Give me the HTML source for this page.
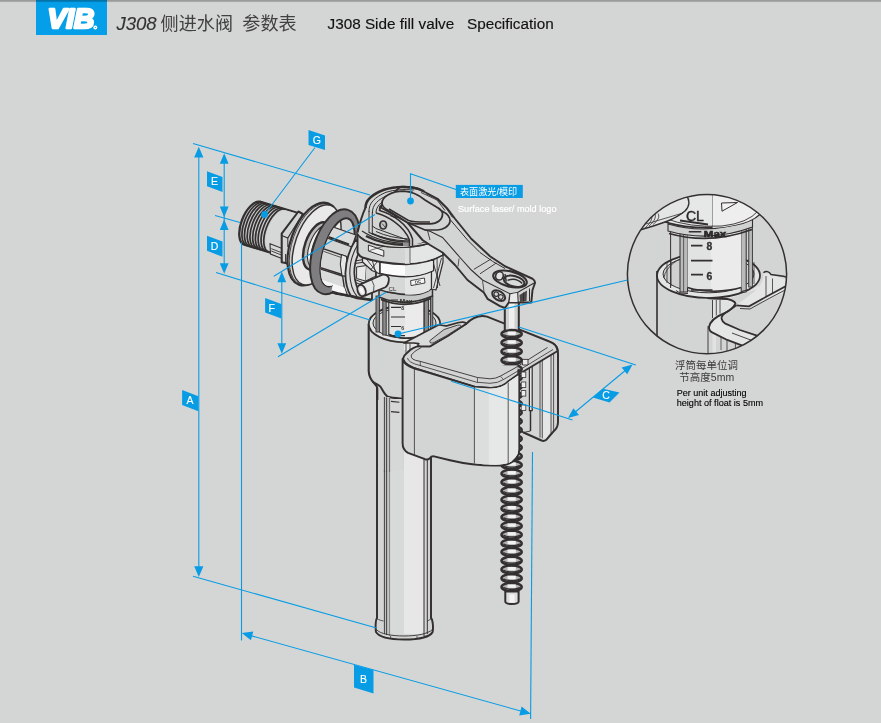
<!DOCTYPE html>
<html lang="zh">
<head>
<meta charset="utf-8">
<title>J308 Side fill valve Specification</title>
<style>
html,body{margin:0;padding:0;background:#d4d6d5;}
body{width:881px;height:723px;overflow:hidden;position:relative;font-family:"Liberation Sans","Noto Sans CJK SC",sans-serif;}
svg{position:absolute;left:0;top:0;display:block;will-change:transform}
text{font-family:"Liberation Sans","Noto Sans CJK SC",sans-serif;}
.bl{stroke:#089ce5;stroke-width:1.1;fill:none;stroke-linecap:butt}
.bf{fill:#089ce5;stroke:none}
.lab{fill:#fff;font-weight:normal;font-size:10.5px;text-anchor:middle;stroke:#fff;stroke-width:0.12}
.k{stroke:#3a3736;fill:none;stroke-linejoin:round;stroke-linecap:round}
</style>
</head>
<body>
<svg width="881" height="723" viewBox="0 0 881 723">
<g id="header">
<rect x="36" y="0" width="71" height="35" fill="#049fe8"/>
<text x="47.5" y="28.4" font-size="28.2" font-weight="bold" font-style="italic" fill="#fff" stroke="#fff" stroke-width="2.6" stroke-linejoin="round" textLength="46.8" lengthAdjust="spacingAndGlyphs">VIB</text>
<circle cx="95.3" cy="27.5" r="2" fill="#fff"/><circle cx="95.3" cy="27.5" r="0.6" fill="#049fe8"/>
<path d="M58 8 L54.5 29 M64.5 8 L61 29" stroke="#049fe8" stroke-width="0" fill="none"/>
<text x="116.4" y="29.7" font-size="18.3" font-style="italic" fill="#333" stroke="#333" stroke-width="0.15" textLength="40.3" lengthAdjust="spacingAndGlyphs">J308</text>
<text x="160.6" y="30.2" font-size="18.1" font-weight="400" fill="#414141" style="font-family:'Liberation Sans','Noto Sans CJK SC',sans-serif">侧进水阀</text>
<text x="242.3" y="30.2" font-size="18.1" font-weight="400" fill="#414141" style="font-family:'Liberation Sans','Noto Sans CJK SC',sans-serif">参数表</text>
<text x="327.5" y="29.3" font-size="15.3" fill="#111" stroke="#111" stroke-width="0.15" xml:space="preserve">J308 Side fill valve   Specification</text>
<defs><linearGradient id="tb" x1="0" y1="0" x2="0" y2="1"><stop offset="0" stop-color="#000" stop-opacity="0.30"/><stop offset="0.55" stop-color="#000" stop-opacity="0.22"/><stop offset="1" stop-color="#000" stop-opacity="0"/></linearGradient></defs>
<rect x="0" y="0" width="881" height="2.6" fill="url(#tb)"/>
</g>

<g id="inlet">
<path d="M260.46 201.73 L306.44 215.52 L290.31 258.57 L244.34 244.77 A11.1 23.0 21.7 0 1 260.46 201.73z" fill="#cbcccc" stroke="#33302f" stroke-width="2.3" stroke-linejoin="round"/>
<path d="M286.47 210.46 L306.11 216.36 L290.64 257.73 L271.01 251.84 A11.1 22.1 21.7 0 1 286.47 210.46z" fill="#d6d7d7"/>
<path d="M263.19 202.55 A11.1 23.0 21.7 0 0 247.06 245.59" fill="none" stroke="#33302f" stroke-width="1.72"/>
<path d="M265.92 203.36 A11.1 23.0 21.7 0 0 249.79 246.41" fill="none" stroke="#33302f" stroke-width="1.72"/>
<path d="M268.65 204.18 A11.1 23.0 21.7 0 0 252.52 247.23" fill="none" stroke="#33302f" stroke-width="1.72"/>
<path d="M271.38 205.00 A11.1 23.0 21.7 0 0 255.25 248.05" fill="none" stroke="#33302f" stroke-width="1.72"/>
<path d="M274.11 205.82 A11.1 23.0 21.7 0 0 257.98 248.87" fill="none" stroke="#33302f" stroke-width="1.72"/>
<path d="M276.84 206.64 A11.1 23.0 21.7 0 0 260.71 249.69" fill="none" stroke="#33302f" stroke-width="1.72"/>
<path d="M279.57 207.46 A11.1 23.0 21.7 0 0 263.44 250.51" fill="none" stroke="#33302f" stroke-width="1.72"/>
<path d="M282.30 208.28 A11.1 23.0 21.7 0 0 266.17 251.32" fill="none" stroke="#33302f" stroke-width="1.72"/>
<path d="M285.03 209.10 A11.1 23.0 21.7 0 0 268.90 252.14" fill="none" stroke="#33302f" stroke-width="1.72"/>
<path d="M270 243.7 L283 248.8 V259 L270.5 254z" fill="#d9dada" stroke="#33302f" stroke-width="1.1"/>
<path d="M271.3 248.7 L283 253.2 M271.3 251 L283 255.6" stroke="#33302f" stroke-width="0.9" fill="none"/>
<path d="M298.4 211.5 L302.6 213.8 L304 224 L292 246 L291 265 L285.6 263 L281.7 262.3 V233.7z" fill="#d3d5d4" stroke="#33302f" stroke-width="2.07" stroke-linejoin="round"/>
<path d="M281.7 235.5 L287.8 238 L302.3 214.5" stroke="#33302f" stroke-width="1.2" fill="none"/>
<path d="M287.8 238 V247 M285.6 254 V263" stroke="#33302f" stroke-width="1" fill="none"/>
</g>
<g id="flange">
<ellipse cx="0" cy="0" rx="22.9" ry="43.2" transform="translate(313.5,244) rotate(19.7)" fill="#cfd0d0" stroke="#33302f" stroke-width="2.2"/>
<ellipse cx="0" cy="0" rx="22.2" ry="42.6" transform="translate(314.6,244.3) rotate(19.7)" fill="none" stroke="#33302f" stroke-width="0.8"/>
<ellipse cx="0" cy="0" rx="21.2" ry="41.9" transform="translate(316.6,244.9) rotate(19.7)" fill="#e9e9e9" stroke="#33302f" stroke-width="1.4"/>
<ellipse cx="0" cy="0" rx="12.3" ry="24.8" transform="translate(317.3,246.0) rotate(19.7)" fill="#bdbebe" stroke="#33302f" stroke-width="2.4"/>
<ellipse cx="0" cy="0" rx="10.2" ry="22.0" transform="translate(319.6,246.6) rotate(19.7)" fill="#f2f2f2" stroke="#33302f" stroke-width="1.1"/>
<ellipse cx="0" cy="0" rx="9.0" ry="20.8" transform="translate(322,247.2) rotate(19.7)" fill="#c9caca" stroke="#33302f" stroke-width="1.3"/>
</g>
<g id="washerback"><path d="M347.95 209.91 A22.0 43.8 17.2 1 0 322.05 293.59 A22.0 43.8 17.2 1 0 347.95 209.91z M347.97 218.48 A14.2 35.4 17.2 1 0 327.03 286.12 A14.2 35.4 17.2 1 0 347.97 218.48z" fill="#7e7e80" fill-rule="evenodd" stroke="#33302f" stroke-width="2"/></g>
<g id="conn"><defs><clipPath id="cc"><path d="M347.79 219.06 A13.6 34.8 17.2 1 0 327.21 285.54 A13.6 34.8 17.2 1 0 347.79 219.06z"/><path d="M352 205 L380 205 V310 H327z"/></clipPath></defs><g clip-path="url(#cc)">
<path d="M318 222 L352 234 L366 298 L338 296 L318 286z" fill="#d3d5d4"/>
<!-- upper face -->
<path d="M319 222 L356 235 L352 247 L319 235z" fill="#dadbdb" stroke="#33302f" stroke-width="1.2" stroke-linejoin="round"/>
<path d="M319 233.5 L349 244.5" stroke="#33302f" stroke-width="2.3" fill="none"/>
<!-- middle face -->
<path d="M314 245.5 L346.5 256.6 L347 268 L342.2 274.5 L314 265.7z" fill="#d6d7d7" stroke="#33302f" stroke-width="1.4" stroke-linejoin="round"/>
<path d="M314 248 L346 259.2" stroke="#33302f" stroke-width="0.8" fill="none"/>
<!-- lower band with highlight -->
<path d="M314 267 L342.6 276 L344.3 287.6 L347.6 295.8 L336 294 L316 287z" fill="#d9dada" stroke="#33302f" stroke-width="1.4" stroke-linejoin="round"/>
<path d="M318 278.2 L344.3 287.6 L346.6 294.6 L336 293 L322 288.5z" fill="#f6f6f6"/>
<path d="M320 285.5 L327 290.5 L338 293.6 L347.6 295.6 L364 296.6" stroke="#33302f" stroke-width="2.6" fill="none" stroke-linejoin="round"/>
<!-- hex end cap -->
<path d="M341.5 254.6 L346.5 256.6 L348 268 L345.5 276.4 L342 275.6 L340.3 264z" fill="#e6e7e7" stroke="#33302f" stroke-width="1.1" stroke-linejoin="round"/>
</g></g>

<g id="tube">
<!-- vertical tube -->
<path d="M377 372 V618 C375.5 620 375.3 628 376 632 C379 637 390 639.5 404 639.5 C418 639.5 430 637 432.6 632 C433.4 628 433 620 431 618 V372z" fill="#d3d5d4" stroke="#33302f" stroke-width="1.95" stroke-linejoin="round"/>
<rect x="404" y="372" width="20" height="262" fill="#e7e7e7"/>
<rect x="389.6" y="372" width="14.4" height="262" fill="#d8d9d9"/>
<rect x="384.4" y="372" width="5.2" height="262" fill="#c2c3c3"/>
<path d="M384.4 372 V634 M386.6 372 V635" stroke="#33302f" stroke-width="0.9" fill="none"/>
<path d="M389.6 372 V636" stroke="#6a6867" stroke-width="0.7" fill="none"/>
<path d="M424 372 V636 M427.3 372 V634" stroke="#33302f" stroke-width="1" fill="none"/>
<path d="M376.4 629.5 C380 634 392 636 404 636 C416 636 428 634 432.4 629.5" stroke="#33302f" stroke-width="0.9" fill="none"/>
<path d="M377 618.5 C379 620 381 620.5 383.6 621 M431 618.5 C429.5 620 428.5 620.5 427.3 621" stroke="#33302f" stroke-width="0.8" fill="none"/>
<path d="M390.6 636 V639 M417 636 V639.2" stroke="#33302f" stroke-width="0.7" fill="none"/>
</g>

<g id="collar">
<!-- collar body -->
<path d="M368.7 324 V370 C369 379 377.5 382 378 392 V470 H404 V343 L440.3 324 C440.3 300 368.7 300 368.7 324z" fill="#d3d5d4"/>
<path d="M368.7 324 V371 C369 377 371.5 380.5 374 383 C376 385 377.3 386.5 377.3 389 V400" fill="none" stroke="#33302f" stroke-width="2.1" stroke-linejoin="round"/>
<path d="M372.5 381.5 C376 384 379.5 385.5 380.7 387 C383 391 385 395.5 388 396.8 C392 398 397 398.3 402.4 398.8" fill="none" stroke="#33302f" stroke-width="2" stroke-linejoin="round"/>
<!-- lighter right part below the rim -->
<path d="M404 343 C420 343 440 336 440.3 324 V334 L414 350 H404z" fill="#e4e5e5"/>
<!-- rim top (outer and inner ellipse) -->
<ellipse cx="404.5" cy="324" rx="35.8" ry="18.3" fill="#e2e3e3" stroke="#33302f" stroke-width="1.85"/>
<ellipse cx="404.5" cy="323" rx="31.5" ry="15" fill="#cfd0d0" stroke="#33302f" stroke-width="1"/>
<path d="M406 343 V356 M410 343.5 V354" stroke="#33302f" stroke-width="0.8" fill="none"/>
<rect x="389.6" y="399" width="13" height="72" fill="#d6d7d7"/>
<rect x="384.4" y="397" width="5.2" height="74" fill="#c2c3c3"/>
<path d="M384.4 397 V471.6 M386.6 397.5 V471.6" stroke="#33302f" stroke-width="0.9" fill="none"/>
<path d="M389.6 398 V471.6" stroke="#33302f" stroke-width="0.7" fill="none"/>
<path d="M391 401.4 L399.4 402.2 M391 411.6 L399.4 412.4" stroke="#33302f" stroke-width="1.1" fill="none"/>
</g>

<g id="cage">
<!-- cage ring left of body -->
<path d="M355.4 240 C349 250 345.8 262 345.4 273 C345.4 283 347 290 351 296 L372 300 V248z" fill="#dadbdb" stroke="#33302f" stroke-width="1.8" stroke-linejoin="round"/>
<path d="M358.5 243.5 C353 252 349.8 263 349.8 273 C350 283 352.5 291 357 296.4" stroke="#33302f" stroke-width="1.1" fill="none"/>
<path d="M362 247 C357 255 354.2 264 354.3 273 C354.6 282 357 289.5 362 295" stroke="#33302f" stroke-width="1.7" fill="none"/>
<!-- spokes -->
<path d="M355 261 L372 258 M354.8 263.5 L372 261" stroke="#33302f" stroke-width="1" fill="none"/>
<path d="M355 279.5 L366 284 M355.8 282.5 L365 286.5" stroke="#33302f" stroke-width="1" fill="none"/>
<path d="M356.6 267 V278.5 L365.5 281 L366.5 265.5z" fill="#e9e9e9" stroke="#33302f" stroke-width="1"/>
<path d="M359.5 250.5 L368 265 M363.5 248 L372 261" stroke="#33302f" stroke-width="1.1" fill="none"/>
<path d="M366.5 265.5 L376 261.5 V276 L365.5 281" fill="#d3d5d4" stroke="#33302f" stroke-width="1"/>
<path d="M357.5 290.5 L366 284 L376 279" stroke="#33302f" stroke-width="1.1" fill="none"/>
<path d="M351 296 L357 298.2 L372 300" stroke="#33302f" stroke-width="2.4" fill="none"/>
</g>

<g id="body">
<!-- graduated inner tube + guide rods -->
<rect x="376" y="296" width="3.4" height="36" fill="#8b8b8c" stroke="#33302f" stroke-width="0.9"/>
<rect x="382.8" y="296" width="3.4" height="39" fill="#8b8b8c" stroke="#33302f" stroke-width="0.9"/>
<rect x="424.2" y="296" width="4.2" height="39" fill="#8b8b8c" stroke="#33302f" stroke-width="0.9"/>
<rect x="430.4" y="296" width="2.4" height="34" fill="#8b8b8c" stroke="#33302f" stroke-width="0.9"/>
<path d="M388.8 298 V334.5 Q398 338.3 406 338.2 Q416 338 423.8 335 V298z" fill="#e2e3e3" stroke="#33302f" stroke-width="1.1"/>
<path d="M405 299 V338 Q416 338 423.2 335 V299z" fill="#ebebeb"/>
<path d="M388.8 334.5 Q398 338.3 406 338.2 Q416 338 423.8 335" fill="none" stroke="#33302f" stroke-width="1.84"/>
<!-- scale marks -->
<path d="M391 307.3 H401 M391 317 H405 M391 326.5 H401 M392 335.6 H405" stroke="#33302f" stroke-width="1.2" fill="none"/>
<text x="401.3" y="310.3" font-size="5" font-weight="bold" fill="#33302f">8</text>
<text x="401.3" y="329.6" font-size="5" font-weight="bold" fill="#33302f">6</text>
<!-- neck rings -->
<path d="M379 290 V297 Q405 308 432.5 296 V289z" fill="#c6c7c7" stroke="#33302f" stroke-width="1.49"/>
<path d="M381 299.5 Q405 309.5 431 298.5" stroke="#33302f" stroke-width="1.84" fill="none"/>
<text x="399.8" y="302.6" font-size="4.6" font-weight="bold" fill="#2a2827" textLength="12.5" lengthAdjust="spacingAndGlyphs">Max</text>
<path d="M390.5 300 H398" stroke="#33302f" stroke-width="1" fill="none"/>
<!-- lower cylinder with DC window -->
<path d="M376 268 V287 Q380 291 391 292.5 Q406 296 420 293.8 Q428 292 431.5 288.5 V266z" fill="#d6d7d7" stroke="#33302f" stroke-width="1.72" stroke-linejoin="round"/>
<path d="M405 274 V294.6 Q413 295 420 293.8 Q428 292 430.8 288.5 V268z" fill="#e3e4e4"/>
<path d="M410.6 280.6 L424.4 278 L425 283 L411 285.6z" fill="#f6f6f6" stroke="#33302f" stroke-width="0.9"/>
<text x="415.2" y="283.9" font-size="4.2" font-weight="bold" fill="#33302f" transform="rotate(-10 415 284)">DC</text>
<text x="388.6" y="291" font-size="6.2" fill="#2a2827">CL</text>
<path d="M386.5 292.3 L397.5 293.6" stroke="#33302f" stroke-width="1" fill="none"/>
<!-- right braces -->
<path d="M431.5 258 L443 254 V262 L436 290 L431.5 289z" fill="#e1e2e2" stroke="#33302f" stroke-width="1.2" stroke-linejoin="round"/>
<path d="M433 262 L440 286 M441.5 258 L433.5 288 M437 257 L437.5 288" stroke="#33302f" stroke-width="0.9" fill="none"/>
<!-- white band -->
<path d="M362.5 256 V262 L372 270.5 L380 274 V262z" fill="#e6e7e7" stroke="#33302f" stroke-width="1.3" stroke-linejoin="round"/>
<path d="M366 258.5 L377 272.5 M372.5 261 L375.5 272 M377 262 L371 269.5" stroke="#33302f" stroke-width="0.9" fill="none"/>
<path d="M380 262 V273.6 Q392 276.6 406 276.8 Q421 276.4 433.5 270.6 V260z" fill="#fbfbfb" stroke="#33302f" stroke-width="1.5" stroke-linejoin="round"/>
<path d="M405 264 V276.2 Q421 275.8 432.8 270.2 V261z" fill="#e6e7e7"/>
<!-- upper ring -->
<path d="M357.5 232.5 V252.5 Q359 256 362.5 257.5 Q380 263.5 406 264.4 Q428 263.5 443 255 V232z" fill="#d3d5d4" stroke="#33302f" stroke-width="1.95" stroke-linejoin="round"/>
<path d="M405 246 V263.6 Q428 262.7 442.2 254.6 V238z" fill="#e4e5e5"/>
<path d="M405 246 V263.6 H410 V246z" fill="#dcdddd"/>
<path d="M410 247 V263" stroke="#33302f" stroke-width="0.7" fill="none"/>
<!-- window on upper ring -->
<path d="M368.4 245 L383.8 250.6 V256.4 L368.4 251z" fill="#efefef" stroke="#33302f" stroke-width="1"/>
<path d="M369.5 250.5 L383 246.5" stroke="#33302f" stroke-width="0.7"/>
<!-- ring top ellipse -->
<ellipse cx="400.2" cy="232" rx="42.8" ry="15.2" fill="#d0d1d1" stroke="#33302f" stroke-width="1.72"/>
<path d="M359.5 236 Q372 247 400 247.6 Q424 247.5 438 240" stroke="#33302f" stroke-width="1" fill="none"/>
<path d="M361.5 233 Q374 243.5 400 244.5 Q424 244.5 436 238" stroke="#33302f" stroke-width="1" fill="none"/>
<path d="M364 230.5 Q376 240 400 241.3 Q420 241.5 432 236.5" stroke="#33302f" stroke-width="1" fill="none"/>
<!-- nozzle -->
<path d="M360.2 284.4 L382.5 274.7 C387 274.5 389.5 277 388.8 280.6 C388.6 283.5 387.5 285.5 385.4 287.3 L365 295.6z" fill="#e4e5e5" stroke="#33302f" stroke-width="1.75" stroke-linejoin="round"/>
<path d="M371.5 279.5 Q375.5 285 373.5 292" stroke="#33302f" stroke-width="0.8" fill="none"/>
<ellipse cx="361.6" cy="290.6" rx="3.9" ry="5.8" transform="rotate(-22 361.6 290.6)" fill="#dcdcdc" stroke="#33302f" stroke-width="1.85"/>
<ellipse cx="361.6" cy="290.6" rx="1.9" ry="3.3" transform="rotate(-22 361.6 290.6)" fill="#f8f8f8"/>
</g>

<g id="floatback">
<!-- right-front face with guide block -->
<path d="M517.5 375 L531 362 L551 343 Q558 345 558 353 V422 Q558 428 553 432 L546 440 Q544 441.5 541.5 440.5 L523.5 432.5 L519 430z" fill="#d3d5d4" stroke="#33302f" stroke-width="1.95" stroke-linejoin="round"/>
<path d="M542.5 352 L551 347 V431.5 L546 438.5 L542.5 438z" fill="#e4e5e5"/>
<path d="M529.4 362 V410.6 H532.2 V360" stroke="#33302f" stroke-width="1.2" fill="#e4e5e5"/>
<path d="M530.5 410.6 V431" stroke="#33302f" stroke-width="1.49" fill="none"/>
<path d="M540 354.5 V437.5 M542.3 353 V438.3" stroke="#33302f" stroke-width="0.8" fill="none"/>
<path d="M551 346.5 V433 M553.6 346 V431" stroke="#33302f" stroke-width="0.8" fill="none"/>
<path d="M523.5 432.5 L530.5 431" stroke="#33302f" stroke-width="0.9" fill="none"/>
<!-- top face -->
<path d="M403 358.8 Q404 355 407.5 352.5 Q414 346 420 346.3 L430 346.3 L466 324 Q476 314 487 316.6 L549.4 341.5 Q557 344 557.6 351 L517.5 375 L509 381 Q502 388.5 490 388 L475 386.9 L420 370 Q405 366 403 358.8Z" fill="#d3d5d4" stroke="#33302f" stroke-width="1.95" stroke-linejoin="round"/>
<!-- bracket to collar -->
<path d="M440 325 Q445 326.2 447.5 325.6 L458.8 322.5 Q466 321.5 466.2 323.8 L447.5 336.3 L430 346.3 H420 Q416 345 418.8 343.7 L413.8 343 L404 343 L440.3 324z" fill="#d9dada" stroke="#33302f" stroke-width="1.72" stroke-linejoin="round"/>
<path d="M444 329.5 L457.5 325.2 Q461.5 324.6 461 326.5 L446 336 L433 343 Q429 343.5 430 340.5z" fill="#c6c7c7" stroke="#33302f" stroke-width="0.9" stroke-linejoin="round"/>
<!-- inner rim lines on the top face -->
<path d="M421.3 347.5 Q414 351 411.3 355 Q410 360 420 361.3 L477.5 377.5 L490 378.8 Q496 378.6 500 376.3 L515 368 L547.5 347.5" stroke="#33302f" stroke-width="0.9" fill="none"/>
<path d="M407.5 358 Q408 362.5 420 365.5 L476.5 382.2 L490 383.3 Q498 383.2 503.5 379.5 L517 371.5 L553 349.5" stroke="#33302f" stroke-width="0.8" fill="none"/>
<path d="M420.3 361.3 V366 M477.5 377.5 V382.6 M500.5 376.3 L503.5 379.5" stroke="#33302f" stroke-width="0.7" fill="none"/>
<!-- ratchet tab -->
<path d="M522 359.4 H528 V365 H522.6z" fill="#e9e9e9" stroke="#33302f" stroke-width="0.9"/>
</g>

<g id="rod">
<defs><clipPath id="rc"><rect x="490" y="290" width="45" height="75.2"/><rect x="517.4" y="365" width="20" height="110"/><rect x="490" y="440" width="45" height="175"/></clipPath></defs>
<g clip-path="url(#rc)">
<rect x="504.8" y="300" width="14" height="32" fill="#cfd0d0" stroke="#33302f" stroke-width="2"/>
<rect x="509" y="301" width="5.5" height="30" fill="#efefef"/>
<rect x="504.6" y="330" width="14.6" height="262" fill="#8d8d8e"/>
<ellipse cx="511.6" cy="334.10" rx="10.1" ry="4.0" fill="#b4b4b5" stroke="#33302f" stroke-width="2.5"/>
<rect x="507.6" y="331.60" width="8.2" height="3.3" fill="#f2f2f2"/>
<path d="M503.4 334.50 C507 337.00 516.5 337.00 519.8 334.50" stroke="#33302f" stroke-width="1.3" fill="none"/>
<ellipse cx="511.6" cy="342.82" rx="10.1" ry="4.0" fill="#b4b4b5" stroke="#33302f" stroke-width="2.5"/>
<rect x="507.6" y="340.32" width="8.2" height="3.3" fill="#f2f2f2"/>
<path d="M503.4 343.22 C507 345.72 516.5 345.72 519.8 343.22" stroke="#33302f" stroke-width="1.3" fill="none"/>
<ellipse cx="511.6" cy="351.54" rx="10.1" ry="4.0" fill="#b4b4b5" stroke="#33302f" stroke-width="2.5"/>
<rect x="507.6" y="349.04" width="8.2" height="3.3" fill="#f2f2f2"/>
<path d="M503.4 351.94 C507 354.44 516.5 354.44 519.8 351.94" stroke="#33302f" stroke-width="1.3" fill="none"/>
<ellipse cx="511.6" cy="360.26" rx="10.1" ry="4.0" fill="#b4b4b5" stroke="#33302f" stroke-width="2.5"/>
<rect x="507.6" y="357.76" width="8.2" height="3.3" fill="#f2f2f2"/>
<path d="M503.4 360.66 C507 363.16 516.5 363.16 519.8 360.66" stroke="#33302f" stroke-width="1.3" fill="none"/>
<ellipse cx="511.6" cy="368.98" rx="10.1" ry="4.0" fill="#b4b4b5" stroke="#33302f" stroke-width="2.5"/>
<rect x="507.6" y="366.48" width="8.2" height="3.3" fill="#f2f2f2"/>
<path d="M503.4 369.38 C507 371.88 516.5 371.88 519.8 369.38" stroke="#33302f" stroke-width="1.3" fill="none"/>
<ellipse cx="511.6" cy="377.70" rx="10.1" ry="4.0" fill="#b4b4b5" stroke="#33302f" stroke-width="2.5"/>
<rect x="507.6" y="375.20" width="8.2" height="3.3" fill="#f2f2f2"/>
<path d="M503.4 378.10 C507 380.60 516.5 380.60 519.8 378.10" stroke="#33302f" stroke-width="1.3" fill="none"/>
<ellipse cx="511.6" cy="386.42" rx="10.1" ry="4.0" fill="#b4b4b5" stroke="#33302f" stroke-width="2.5"/>
<rect x="507.6" y="383.92" width="8.2" height="3.3" fill="#f2f2f2"/>
<path d="M503.4 386.82 C507 389.32 516.5 389.32 519.8 386.82" stroke="#33302f" stroke-width="1.3" fill="none"/>
<ellipse cx="511.6" cy="395.14" rx="10.1" ry="4.0" fill="#b4b4b5" stroke="#33302f" stroke-width="2.5"/>
<rect x="507.6" y="392.64" width="8.2" height="3.3" fill="#f2f2f2"/>
<path d="M503.4 395.54 C507 398.04 516.5 398.04 519.8 395.54" stroke="#33302f" stroke-width="1.3" fill="none"/>
<ellipse cx="511.6" cy="403.86" rx="10.1" ry="4.0" fill="#b4b4b5" stroke="#33302f" stroke-width="2.5"/>
<rect x="507.6" y="401.36" width="8.2" height="3.3" fill="#f2f2f2"/>
<path d="M503.4 404.26 C507 406.76 516.5 406.76 519.8 404.26" stroke="#33302f" stroke-width="1.3" fill="none"/>
<ellipse cx="511.6" cy="412.58" rx="10.1" ry="4.0" fill="#b4b4b5" stroke="#33302f" stroke-width="2.5"/>
<rect x="507.6" y="410.08" width="8.2" height="3.3" fill="#f2f2f2"/>
<path d="M503.4 412.98 C507 415.48 516.5 415.48 519.8 412.98" stroke="#33302f" stroke-width="1.3" fill="none"/>
<ellipse cx="511.6" cy="421.30" rx="10.1" ry="4.0" fill="#b4b4b5" stroke="#33302f" stroke-width="2.5"/>
<rect x="507.6" y="418.80" width="8.2" height="3.3" fill="#f2f2f2"/>
<path d="M503.4 421.70 C507 424.20 516.5 424.20 519.8 421.70" stroke="#33302f" stroke-width="1.3" fill="none"/>
<ellipse cx="511.6" cy="430.02" rx="10.1" ry="4.0" fill="#b4b4b5" stroke="#33302f" stroke-width="2.5"/>
<rect x="507.6" y="427.52" width="8.2" height="3.3" fill="#f2f2f2"/>
<path d="M503.4 430.42 C507 432.92 516.5 432.92 519.8 430.42" stroke="#33302f" stroke-width="1.3" fill="none"/>
<ellipse cx="511.6" cy="438.74" rx="10.1" ry="4.0" fill="#b4b4b5" stroke="#33302f" stroke-width="2.5"/>
<rect x="507.6" y="436.24" width="8.2" height="3.3" fill="#f2f2f2"/>
<path d="M503.4 439.14 C507 441.64 516.5 441.64 519.8 439.14" stroke="#33302f" stroke-width="1.3" fill="none"/>
<ellipse cx="511.6" cy="447.46" rx="10.1" ry="4.0" fill="#b4b4b5" stroke="#33302f" stroke-width="2.5"/>
<rect x="507.6" y="444.96" width="8.2" height="3.3" fill="#f2f2f2"/>
<path d="M503.4 447.86 C507 450.36 516.5 450.36 519.8 447.86" stroke="#33302f" stroke-width="1.3" fill="none"/>
<ellipse cx="511.6" cy="456.18" rx="10.1" ry="4.0" fill="#b4b4b5" stroke="#33302f" stroke-width="2.5"/>
<rect x="507.6" y="453.68" width="8.2" height="3.3" fill="#f2f2f2"/>
<path d="M503.4 456.58 C507 459.08 516.5 459.08 519.8 456.58" stroke="#33302f" stroke-width="1.3" fill="none"/>
<ellipse cx="511.6" cy="464.90" rx="10.1" ry="4.0" fill="#b4b4b5" stroke="#33302f" stroke-width="2.5"/>
<rect x="507.6" y="462.40" width="8.2" height="3.3" fill="#f2f2f2"/>
<path d="M503.4 465.30 C507 467.80 516.5 467.80 519.8 465.30" stroke="#33302f" stroke-width="1.3" fill="none"/>
<ellipse cx="511.6" cy="473.62" rx="10.1" ry="4.0" fill="#b4b4b5" stroke="#33302f" stroke-width="2.5"/>
<rect x="507.6" y="471.12" width="8.2" height="3.3" fill="#f2f2f2"/>
<path d="M503.4 474.02 C507 476.52 516.5 476.52 519.8 474.02" stroke="#33302f" stroke-width="1.3" fill="none"/>
<ellipse cx="511.6" cy="482.34" rx="10.1" ry="4.0" fill="#b4b4b5" stroke="#33302f" stroke-width="2.5"/>
<rect x="507.6" y="479.84" width="8.2" height="3.3" fill="#f2f2f2"/>
<path d="M503.4 482.74 C507 485.24 516.5 485.24 519.8 482.74" stroke="#33302f" stroke-width="1.3" fill="none"/>
<ellipse cx="511.6" cy="491.06" rx="10.1" ry="4.0" fill="#b4b4b5" stroke="#33302f" stroke-width="2.5"/>
<rect x="507.6" y="488.56" width="8.2" height="3.3" fill="#f2f2f2"/>
<path d="M503.4 491.46 C507 493.96 516.5 493.96 519.8 491.46" stroke="#33302f" stroke-width="1.3" fill="none"/>
<ellipse cx="511.6" cy="499.78" rx="10.1" ry="4.0" fill="#b4b4b5" stroke="#33302f" stroke-width="2.5"/>
<rect x="507.6" y="497.28" width="8.2" height="3.3" fill="#f2f2f2"/>
<path d="M503.4 500.18 C507 502.68 516.5 502.68 519.8 500.18" stroke="#33302f" stroke-width="1.3" fill="none"/>
<ellipse cx="511.6" cy="508.50" rx="10.1" ry="4.0" fill="#b4b4b5" stroke="#33302f" stroke-width="2.5"/>
<rect x="507.6" y="506.00" width="8.2" height="3.3" fill="#f2f2f2"/>
<path d="M503.4 508.90 C507 511.40 516.5 511.40 519.8 508.90" stroke="#33302f" stroke-width="1.3" fill="none"/>
<ellipse cx="511.6" cy="517.22" rx="10.1" ry="4.0" fill="#b4b4b5" stroke="#33302f" stroke-width="2.5"/>
<rect x="507.6" y="514.72" width="8.2" height="3.3" fill="#f2f2f2"/>
<path d="M503.4 517.62 C507 520.12 516.5 520.12 519.8 517.62" stroke="#33302f" stroke-width="1.3" fill="none"/>
<ellipse cx="511.6" cy="525.94" rx="10.1" ry="4.0" fill="#b4b4b5" stroke="#33302f" stroke-width="2.5"/>
<rect x="507.6" y="523.44" width="8.2" height="3.3" fill="#f2f2f2"/>
<path d="M503.4 526.34 C507 528.84 516.5 528.84 519.8 526.34" stroke="#33302f" stroke-width="1.3" fill="none"/>
<ellipse cx="511.6" cy="534.66" rx="10.1" ry="4.0" fill="#b4b4b5" stroke="#33302f" stroke-width="2.5"/>
<rect x="507.6" y="532.16" width="8.2" height="3.3" fill="#f2f2f2"/>
<path d="M503.4 535.06 C507 537.56 516.5 537.56 519.8 535.06" stroke="#33302f" stroke-width="1.3" fill="none"/>
<ellipse cx="511.6" cy="543.38" rx="10.1" ry="4.0" fill="#b4b4b5" stroke="#33302f" stroke-width="2.5"/>
<rect x="507.6" y="540.88" width="8.2" height="3.3" fill="#f2f2f2"/>
<path d="M503.4 543.78 C507 546.28 516.5 546.28 519.8 543.78" stroke="#33302f" stroke-width="1.3" fill="none"/>
<ellipse cx="511.6" cy="552.10" rx="10.1" ry="4.0" fill="#b4b4b5" stroke="#33302f" stroke-width="2.5"/>
<rect x="507.6" y="549.60" width="8.2" height="3.3" fill="#f2f2f2"/>
<path d="M503.4 552.50 C507 555.00 516.5 555.00 519.8 552.50" stroke="#33302f" stroke-width="1.3" fill="none"/>
<ellipse cx="511.6" cy="560.82" rx="10.1" ry="4.0" fill="#b4b4b5" stroke="#33302f" stroke-width="2.5"/>
<rect x="507.6" y="558.32" width="8.2" height="3.3" fill="#f2f2f2"/>
<path d="M503.4 561.22 C507 563.72 516.5 563.72 519.8 561.22" stroke="#33302f" stroke-width="1.3" fill="none"/>
<ellipse cx="511.6" cy="569.54" rx="10.1" ry="4.0" fill="#b4b4b5" stroke="#33302f" stroke-width="2.5"/>
<rect x="507.6" y="567.04" width="8.2" height="3.3" fill="#f2f2f2"/>
<path d="M503.4 569.94 C507 572.44 516.5 572.44 519.8 569.94" stroke="#33302f" stroke-width="1.3" fill="none"/>
<ellipse cx="511.6" cy="578.26" rx="10.1" ry="4.0" fill="#b4b4b5" stroke="#33302f" stroke-width="2.5"/>
<rect x="507.6" y="575.76" width="8.2" height="3.3" fill="#f2f2f2"/>
<path d="M503.4 578.66 C507 581.16 516.5 581.16 519.8 578.66" stroke="#33302f" stroke-width="1.3" fill="none"/>
<ellipse cx="511.6" cy="586.98" rx="10.1" ry="4.0" fill="#b4b4b5" stroke="#33302f" stroke-width="2.5"/>
<rect x="507.6" y="584.48" width="8.2" height="3.3" fill="#f2f2f2"/>
<path d="M503.4 587.38 C507 589.88 516.5 589.88 519.8 587.38" stroke="#33302f" stroke-width="1.3" fill="none"/>
<path d="M505.3 591.5 V601.5 C505.3 604.8 518.6 604.8 518.6 601.5 V591.5z" fill="#dedede" stroke="#33302f" stroke-width="2"/>
<rect x="509.5" y="594.5" width="5" height="8" fill="#f4f4f4"/>
</g></g>
<g id="floatfront">
<path d="M402.6 359 V443 Q402.6 450 408 452.8 L425 459.2 Q428.5 460.2 430 458 Q431.5 456 434 456.4 L450 460.2 Q472 465.5 495 465.5 Q507 465.5 512 462 L516 458 Q519 455 519 450 V374 L509 381 Q502 388.5 490 388 L475 386.9 L420 370 Q404 366 402.6 359Z" fill="#d3d5d4" stroke="#33302f" stroke-width="1.95" stroke-linejoin="round"/>
<path d="M474.4 387.5 L490 388.6 Q502 389 509.3 381.6 L518.2 375.5 V450 Q518.2 454.5 515.4 457.3 L511.5 461.3 Q507 464.6 495 464.7 Q485 464.7 474.4 463.2z" fill="#dcdddd"/>
<path d="M488.8 388.8 Q502 389 509.3 381.6 L518.2 375.5 V450 Q518.2 454.5 515.4 457.3 L511.5 461.3 Q507 464.6 495 464.7 L488.8 464.6z" fill="#e6e7e7"/>
<path d="M474.4 387 V463.4" stroke="#33302f" stroke-width="0.8" fill="none"/>
<path d="M414.4 368.5 V455 M508.2 382.5 V463.5" stroke="#33302f" stroke-width="0.8" fill="none"/>
<!-- ratchet squares -->
<rect x="521.2" y="372" width="4.6" height="5.5" fill="#ececec" stroke="#33302f" stroke-width="0.8"/>
<rect x="521.2" y="382" width="4.6" height="5.5" fill="#ececec" stroke="#33302f" stroke-width="0.8"/>
<rect x="521.2" y="390.6" width="4.6" height="5.5" fill="#ececec" stroke="#33302f" stroke-width="0.8"/>
<rect x="521.2" y="405" width="4.6" height="5.5" fill="#ececec" stroke="#33302f" stroke-width="0.8"/>
</g>

<g id="cap">
<!-- cap base: covers ring top -->
<path d="M365.6 207.5 C361 216 358.5 226 357.5 233 C366 243 385 247.5 407 247 L430 240 L425 230 L407.5 222.5z" fill="#d3d5d4"/>
<path d="M365.6 207.5 C362.5 214 359.5 224 357.6 232.5" stroke="#33302f" stroke-width="1.84" fill="none"/>
<!-- pivot area lines -->
<path d="M369 211 V233 M372.3 212 V234.5" stroke="#33302f" stroke-width="1" fill="none"/>
<path d="M372.3 226 L376 228.5 L409 240.5" stroke="#33302f" stroke-width="1" fill="none"/>
<path d="M366 236 Q384 245.5 409 245" stroke="#33302f" stroke-width="2.53" fill="none"/>
<path d="M372 233.5 Q388 241.5 409 242.3" stroke="#33302f" stroke-width="1.49" fill="none"/>
<path d="M362 231 Q380 243 409 243.8" stroke="#33302f" stroke-width="1.2" fill="none"/>
<path d="M369 232.5 Q386 240.3 409 241" stroke="#33302f" stroke-width="1.1" fill="none"/>
<path d="M376 231.5 Q390 238 409 239" stroke="#33302f" stroke-width="1" fill="none"/>
<rect x="403" y="242.5" width="7" height="3.5" fill="#8f8f90"/>
<path d="M376 213 C388 216 404 226 409.5 240 L409.5 246" stroke="#33302f" stroke-width="1.49" fill="none"/>
<path d="M379.5 210.5 C392 214 408 224 412.5 239 L412.5 246" stroke="#33302f" stroke-width="1.49" fill="none"/>
<ellipse cx="383.2" cy="225" rx="3.3" ry="4" fill="#c4c5c5" stroke="#33302f" stroke-width="1.72"/>
<path d="M382 223.5 L385 227" stroke="#33302f" stroke-width="0.8"/>
<!-- arm -->
<path d="M400 186.9 C408 186.5 416 188 420 189.5 L437.5 198.75 L447.5 208.75 L455 218.75 L471.25 238.75 L490 256.25 L505 266.25 L532.5 278.75 Q535.3 280.5 535 283 L532.5 290 L531.3 302.5 H508.8 L505 308 L500 306.2 L487.5 298.8 L483.8 292.5 L467.5 280 L455 265 L442.5 252.5 L430 245 L422.5 240 L407.5 222.5 L380 207z" fill="#d3d5d4" stroke="#33302f" stroke-width="1.95" stroke-linejoin="round"/>
<!-- cap outer rim -->
<path d="M365.6 208 C365 200 372 194.5 384 189.8 C392 187 402 186.3 412.5 187.5 C418 188.2 421 189.6 424 191.3" stroke="#33302f" stroke-width="2.53" fill="none"/>
<path d="M369 212 C368.5 203 375 197 386 192.3 C394 189.6 404 189 414 190" stroke="#33302f" stroke-width="1" fill="none"/>
<path d="M372.5 213 C372 205 378 199.5 388 195 C396 192 405 191.3 413 192" stroke="#33302f" stroke-width="1" fill="none"/>
<path d="M376 213.2 C376 207 380 202 389.5 197.6" stroke="#33302f" stroke-width="1" fill="none"/>
<path d="M379.6 211 C379.5 206 382 203 388 200" stroke="#33302f" stroke-width="1.84" fill="none"/>
<!-- cap disc (right lobe) -->
<path d="M442 211 C447 213.5 450.5 217 450 221.5 C449.3 226.5 443 229.6 437.5 230 L425 230 L407.5 222.5" stroke="#33302f" stroke-width="1.72" fill="none"/>
<!-- logo flat oval -->
<path d="M382 203.5 C381.5 196.5 392 191.2 403.8 191.2 C412 191.4 420 196 425 200 C434 206 442 208.5 442.5 213 C443 220 437 223.6 430 223.8 C420 224.2 412 224 407.5 222.5 L387.5 210 C384 208 382.2 206 382 203.5Z" fill="#d3d5d4" stroke="#33302f" stroke-width="1.72" stroke-linejoin="round"/>
<path d="M389 209 L408.5 220.5 C414 222 422 222.3 430 222" stroke="#33302f" stroke-width="1.49" fill="none"/>
<!-- arm ridge and inner lines -->
<path d="M426 193.6 L436 198.6 L446 208 L452.5 217.5" stroke="#33302f" stroke-width="0.9" fill="none"/>
<path d="M421 192.5 L437 200 L445 210.5" stroke="#33302f" stroke-width="0.9" fill="none"/>
<path d="M450 219.4 L467.5 240 L480 252.5 L492.5 261.3 L505 268.5" stroke="#33302f" stroke-width="1" fill="none"/>
<path d="M425 230 L430 231.3 L442.5 237.5 L460 257.5 L471.3 270 L482.5 280 L510 293.8 L517.5 292.5 L535 282.5" stroke="#33302f" stroke-width="1.1" fill="none"/>
<path d="M427.5 230.5 L430 240" stroke="#33302f" stroke-width="0.9" fill="none"/>
<path d="M473.8 269.4 L491.3 258.8 M480 273.8 L496.3 263" stroke="#33302f" stroke-width="0.9" fill="none"/>
<path d="M459 258.5 L458 266.5" stroke="#33302f" stroke-width="0.8" fill="none"/>
<path d="M482.5 280.5 L484 291.5" stroke="#33302f" stroke-width="0.8" fill="none"/>
<!-- end block -->
<path d="M510 293.8 L508.8 302.5 M517.5 292.5 L518 302.5" stroke="#33302f" stroke-width="1.49" fill="none"/>
<path d="M510.6 294.2 L517.2 293 L517.6 302 H509.6z" fill="#e9e9e9"/>
<path d="M519.5 295 L527 290.5 L526.5 301 L520 302z" fill="#4a4746"/>
<path d="M523.5 292.5 V301.5 M529.5 288.5 V301" stroke="#33302f" stroke-width="1" fill="none"/>
<!-- oval hole on the arm top -->
<g transform="translate(510,279) rotate(14)">
<ellipse cx="0" cy="0" rx="17.2" ry="7.6" fill="#d3d5d4" stroke="#33302f" stroke-width="2.07"/>
<ellipse cx="4.5" cy="1.2" rx="10.5" ry="5.2" fill="#d9dada" stroke="#33302f" stroke-width="1.95"/>
<ellipse cx="-11" cy="-0.5" rx="3.8" ry="4.2" fill="#e3e3e3" stroke="#33302f" stroke-width="1.61"/>
<path d="M-6 -3.5 L-3 3.5 M-2 2 Q5 -3.5 13 1.5" stroke="#33302f" stroke-width="1.49" fill="none"/>
</g>
<!-- small oval hole on side -->
<g transform="translate(498.6,295.6) rotate(32)">
<ellipse cx="0" cy="0" rx="7.2" ry="4.4" fill="#d3d5d4" stroke="#33302f" stroke-width="1.95"/>
<ellipse cx="-2.8" cy="0" rx="2.3" ry="2.2" fill="none" stroke="#33302f" stroke-width="1.1"/>
<ellipse cx="2.6" cy="0" rx="2.3" ry="2.2" fill="none" stroke="#33302f" stroke-width="1.1"/>
</g>
</g>

<g id="detail">
<defs><clipPath id="dc"><circle cx="707" cy="274.1" r="79.6"/></clipPath></defs>
<circle cx="707" cy="274.1" r="79.6" fill="#d3d5d4"/>
<g clip-path="url(#dc)">
<!-- collar body -->
<path d="M657 270 V360 H790 V262 L757 276 Z" fill="#d3d5d4"/>
<!-- light area right of shading line, under rim -->
<path d="M712.5 298 C730 299 748 294 758 286 L790 268 V300 L737 302 L712.5 322z" fill="#e6e7e7"/>
<path d="M712.5 298 V360 H716 L716 330 Q716 318 725 312 L736 303z" fill="#e1e2e2"/>
<!-- collar rim ellipses -->
<ellipse cx="708.5" cy="275.5" rx="51.5" ry="22.5" fill="#e3e4e4" stroke="#33302f" stroke-width="1.72"/>
<ellipse cx="708.5" cy="274" rx="45.5" ry="18.8" fill="#cfd0d0" stroke="#33302f" stroke-width="1"/>
<path d="M657 271 V360" stroke="#33302f" stroke-width="1.61" fill="none"/>
<path d="M663.8 278 C666 266 678 258 690 256" stroke="#33302f" stroke-width="0.8" fill="none"/>
<!-- inner back wall hints -->
<path d="M667 262 V283 M671 259.5 V286" stroke="#33302f" stroke-width="0.8" fill="none"/>
<path d="M749 259 V287 M754 262 V284" stroke="#33302f" stroke-width="0.8" fill="none"/>
<!-- guide bars -->
<path d="M670.6 228 V288" stroke="#33302f" stroke-width="1" fill="none"/>
<rect x="680" y="215" width="7.5" height="77" fill="#b9baba" stroke="#33302f" stroke-width="1"/>
<path d="M683.6 215 V292" stroke="#33302f" stroke-width="0.7"/>
<rect x="741.2" y="215" width="5" height="77" fill="#b9baba" stroke="#33302f" stroke-width="1"/>
<rect x="748.8" y="215" width="3.6" height="72" fill="#b9baba" stroke="#33302f" stroke-width="0.9"/>
<!-- graduated tube -->
<path d="M687.5 222 V287.5 Q700 291 714 291 Q730 290.5 741.2 287.5 V222z" fill="#e1e2e2"/>
<path d="M711 222 V291 Q730 290.5 741.2 287.5 V222z" fill="#ebebeb"/>
<path d="M687.5 287.5 Q700 291.3 714 291.3 Q730 290.8 741.2 287.5" stroke="#33302f" stroke-width="1.49" fill="none"/>
<path d="M676 290.5 L680 293 L688 293.5 M741 291.5 L748 290" stroke="#33302f" stroke-width="1" fill="none"/>
<!-- scale marks -->
<path d="M691 245.6 H702.5 M691 260.6 H712.5 M691 274.6 H703 M691 290 H712.5" stroke="#33302f" stroke-width="1.72" fill="none"/>
<text x="706.4" y="250" font-size="10.4" font-weight="bold" fill="#333130" stroke="#333130" stroke-width="0.3">8</text>
<text x="706.4" y="279.6" font-size="10.4" font-weight="bold" fill="#333130" stroke="#333130" stroke-width="0.3">6</text>
<!-- neck ring -->
<path d="M668 224 V231 Q710 243 752.5 227 V219 Q710 236 668 224z" fill="#d0d1d1" stroke="#33302f" stroke-width="1.1"/>
<path d="M669 233.5 Q710 245 752 229.5" stroke="#33302f" stroke-width="1.72" fill="none"/>
<rect x="687" y="231" width="55" height="7.6" fill="#e4e5e5" opacity="0.0"/>
<path d="M688.8 231.8 H701.3" stroke="#33302f" stroke-width="1.61" fill="none"/>
<text x="703.8" y="237.2" font-size="8.8" font-weight="bold" fill="#2a2827" stroke="#2a2827" stroke-width="0.55" textLength="22.4" lengthAdjust="spacingAndGlyphs">Max</text>
<!-- body bottom (lower cylinder) -->
<path d="M660 190 V219 Q667 224 685 226.3 Q712 229.5 735 225 Q752 221.5 760 214 V190z" fill="#e6e7e7" stroke="#33302f" stroke-width="1.72"/>
<path d="M712.5 190 V228 Q725 227.5 735 225 Q752 221.5 759.3 214 V190z" fill="#eeeeee"/>
<path d="M712.5 195 V227.7" stroke="#6a6867" stroke-width="0.6"/>
<path d="M664 218 Q690 228 722 226 Q748 223 758 211" stroke="#33302f" stroke-width="0.9" fill="none"/>
<text x="686" y="221.3" font-size="14" fill="#2a2827" stroke="#2a2827" stroke-width="0.45">CL</text>
<path d="M680 220.5 L708 224.5" stroke="#33302f" stroke-width="1.84" fill="none"/>
<path d="M721.5 203 L737.5 202.5 L722 211.2z" fill="#f3f3f3" stroke="#33302f" stroke-width="1"/>
<!-- nozzle end at top-left -->
<path d="M640 230 C652 226 672 222 685 211 C690 206 690 200 686 195 L640 205z" fill="#e4e5e5" stroke="#33302f" stroke-width="1.49" stroke-linejoin="round"/>
<path d="M645 228 C652 222 654 216 650 211 M649 226 C655 221 657 216 654 212 M653 224.5 C658 220.5 660 217 658 213.5" stroke="#33302f" stroke-width="0.8" fill="none"/>
<path d="M646 224 L683 213" stroke="#33302f" stroke-width="0.8" fill="none"/>
<!-- float S-curve and bracket -->
<path d="M727.2 299 C732 300 735 302 735.4 303.6 C734 306.5 731 310 725 313 C716.3 316.3 710 321.7 709 327.2 C709 330 710 331.5 712.6 332.6 L727.2 340 L741.7 345.4 L790 366 V270 L770 262 L757.5 289 Z" fill="#d3d5d4"/>
<path d="M757 289.5 C762 284 764 277 763.5 272.7 L772 274.5 L790 281 V290 L749 306.3 L736.3 305.4z" fill="#e4e5e5"/>
<path d="M735.4 303.6 C734 306.5 731 310 725 313 C716.3 316.3 710 321.7 709 327.2 C709 330 710 331.5 712.6 332.6 L727.2 340 L741.7 345.4 L760 353 L756.2 335.4 L740 330 L725.4 323.6 C722 321.5 721 320 721.7 318.1 C722.5 315.5 724 314 725.4 312.7 L736.3 305.4z" fill="#e4e5e5"/>
<path d="M763.5 272.7 C766 270.5 769 271.5 771 274.5 L783.5 276.3 L790 278" stroke="#33302f" stroke-width="1.5" fill="none"/>
<path d="M707.2 298.1 C716 299 722 298.5 727.2 299 C732 300 735 302 735.4 303.6 C734 306.5 731 310 725 313 C716.3 316.3 710 321.7 709 327.2 C709 330 710 331.5 712.6 332.6 L727.2 340 L741.7 345.4 L775 360" stroke="#33302f" stroke-width="1.9" fill="none"/>
<path d="M736.3 305.4 L749 306.3 L767.1 296.3 L788 285" stroke="#33302f" stroke-width="1.7" fill="none"/>
<path d="M740 308.5 L750 309 L768 299 L788 288.5" stroke="#33302f" stroke-width="0.9" fill="none"/>
<path d="M736.3 305.4 C733 308 729 310.5 725.4 312.7 C722.5 315 721 317 721.7 319 C722 321 723.5 322.5 725.4 323.6 L740 330 L756.2 335.4 L785 345" stroke="#33302f" stroke-width="1.8" fill="none"/>
<path d="M732 333 L748 339 L780 350" stroke="#33302f" stroke-width="0.9" fill="none"/>
<path d="M708 326 V360 M712.5 300 V318" stroke="#33302f" stroke-width="0.9" fill="none"/>
<path d="M716.3 300 V315.5 M720 300 V313.5" stroke="#33302f" stroke-width="0.8" fill="none"/>
<path d="M727 340.5 V356 M735.4 343.5 V356" stroke="#33302f" stroke-width="0.8" fill="none"/>
<path d="M721 337 V350" stroke="#33302f" stroke-width="0.7" fill="none"/>
<path d="M766 276 V297 M772.5 278.5 V294" stroke="#33302f" stroke-width="0.8" fill="none"/>
</g>
<circle cx="707" cy="274.1" r="79.6" fill="none" stroke="#33302f" stroke-width="1.49"/>
</g>

<g id="dims">
<!-- A -->
<path class="bl" d="M193 143.5 L370 195"/>
<path class="bl" d="M198.8 152 V572"/>
<path class="bf" d="M198.8 146.8 l4.6 10.8 h-9.2z"/>
<path class="bf" d="M198.8 577 l4.6 -10.8 h-9.2z"/>
<path class="bl" d="M193 576.2 L376.5 628"/>
<!-- E / D -->
<path class="bl" d="M224.2 158 V268"/>
<path class="bf" d="M224.2 153.2 l4.4 10.6 h-8.8z"/>
<path class="bf" d="M224.2 217.2 l4.4 -10.6 h-8.8z"/>
<path class="bf" d="M224.2 219.4 l4.4 10.6 h-8.8z"/>
<path class="bf" d="M224.2 273.8 l4.4 -10.6 h-8.8z"/>
<path class="bl" d="M215 215.5 L240 222.5"/>
<path class="bl" d="M216 272.5 L370 320"/>
<!-- F -->
<path class="bl" d="M273.8 276.3 L375 214.5"/>
<path class="bl" d="M281.8 278 V348"/>
<path class="bf" d="M281.8 271.6 l4.4 10.6 h-8.8z"/>
<path class="bf" d="M281.8 353.8 l4.4 -10.6 h-8.8z"/>
<path class="bl" d="M278 356.7 L386 292.3"/>
<!-- G -->
<path class="bl" d="M315 147.5 L264.5 214.5"/>
<circle class="bf" cx="264.5" cy="214.5" r="3.4"/>
<!-- B -->
<path class="bl" d="M241.5 242.5 V640.5"/>
<path class="bl" d="M532.5 452 L530.6 719"/>
<path class="bl" d="M246 634.3 L526 712.5"/>
<path class="bf" d="M241.7 633 l11.6 -1.6 l-2.4 8.8z"/>
<path class="bf" d="M530.8 713.8 l-11.6 1.6 l2.4 -8.8z"/>
<!-- C -->
<path class="bl" d="M518.8 327 L635.8 365"/>
<path class="bl" d="M451.2 381.2 L572.5 420"/>
<path class="bl" d="M571 415.5 L629.5 367"/>
<path class="bf" d="M632.6 364.4 l-11 3 l5.6 6.8z"/>
<path class="bf" d="M568 418 l11 -3 l-5.6 -6.8z"/>
<!-- surface logo leader -->
<path class="bl" d="M456 189.6 L410.5 173.8 V201"/>
<circle class="bf" cx="410.5" cy="201" r="3.4"/>
<!-- detail leader -->
<path class="bl" d="M627.5 280 L398 334"/>
<circle class="bf" cx="398" cy="334" r="3.4"/>
</g>

<g id="labels">
<path class="bf" d="M207 171.2 L222.5 177 V192 L207 186.2z"/><text class="lab" x="214.6" y="185.3">E</text>
<path class="bf" d="M207 235.8 L222.5 241.6 V256.8 L207 250.8z"/><text class="lab" x="214.6" y="249.9">D</text>
<path class="bf" d="M308.5 130 L325 135.5 V150 L308.5 145z"/><text class="lab" x="316.8" y="143.8">G</text>
<path class="bf" d="M265.1 298.1 L281.3 304.1 V318.6 L265.1 312.5z"/><text class="lab" x="271.6" y="311.9">F</text>
<path class="bf" d="M182.1 390 L198.4 396.3 V411.3 L182.1 405.1z"/><text class="lab" x="190" y="403.9">A</text>
<path class="bf" d="M354 664.8 L373.5 670 V693.5 L354 687.5z"/><text class="lab" x="363.6" y="682.5">B</text>
<path class="bf" d="M603 388.8 L619.5 392.5 L609.5 402.5 L593 397.5z"/><text class="lab" x="606" y="399.4">C</text>
<rect class="bf" x="455.8" y="184.9" width="67" height="13.1"/>
<text x="460" y="194.7" font-size="9.1" fill="#fff" style="font-family:'Liberation Sans','Noto Sans CJK SC',sans-serif">表面激光/模印</text>
<text x="458" y="212" font-size="9.6" fill="#fff" stroke="#fff" stroke-width="0.2" textLength="98.5" lengthAdjust="spacingAndGlyphs">Surface laser/ mold logo</text>
<text x="675" y="369" font-size="10.5" font-weight="400" fill="#3a3a3a" style="font-family:'Liberation Sans','Noto Sans CJK SC',sans-serif">浮筒每单位调</text>
<text x="679.3" y="380.8" font-size="10.5" font-weight="400" fill="#3a3a3a" style="font-family:'Liberation Sans','Noto Sans CJK SC',sans-serif">节高度5mm</text>
<text x="676.7" y="395.6" font-size="9.05" fill="#000" stroke="#000" stroke-width="0.12">Per unit adjusting</text>
<text x="676.7" y="406.4" font-size="9.1" fill="#000" stroke="#000" stroke-width="0.12">height of float is 5mm</text>
</g>

</svg>
</body>
</html>
